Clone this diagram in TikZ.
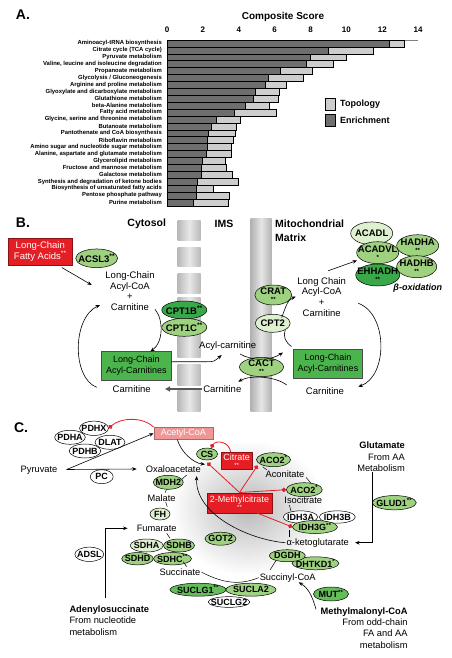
\documentclass[tikz,border=0pt]{standalone}
\usepackage{fontspec}
\setmainfont{Liberation Sans}
\usetikzlibrary{shapes.geometric,arrows.meta,calc}
\definecolor{rd}{RGB}{228,30,36}
\definecolor{pk}{RGB}{240,150,150}
\definecolor{dg}{RGB}{56,168,72}
\definecolor{mg}{RGB}{100,188,90}
\definecolor{lg}{RGB}{158,210,128}
\definecolor{vlg}{RGB}{222,240,208}
\definecolor{bxg}{RGB}{76,180,76}
\definecolor{darkbar}{RGB}{110,110,110}
\definecolor{lightbar}{RGB}{205,205,205}
\newcommand{\sst}[1]{\textsuperscript{#1}}
\newcommand{\lowst}[1]{\\[-1pt]{\fontsize{6}{6}\selectfont #1}}
\begin{document}
\begin{tikzpicture}[x=1pt,y=-1pt,
 enz/.style={ellipse,draw=black,line width=0.5pt,inner sep=0pt,inner xsep=-10pt,align=center,font=\bfseries\fontsize{9.5}{8}\selectfont},
 enzc/.style={enz,font=\bfseries\fontsize{9}{8}\selectfont},
 sz/.style 2 args={minimum width=#1,minimum height=#2},
 txtb/.style={font=\fontsize{9.5}{10.6}\selectfont,align=center,inner sep=1pt},
 txtc/.style={font=\fontsize{9.3}{11.4}\selectfont,align=center,inner sep=1pt},
 hdr/.style={font=\bfseries\fontsize{10.5}{14}\selectfont,inner sep=0pt},
 pnl/.style={font=\bfseries\fontsize{14}{14}\selectfont,inner sep=0pt},
 gbox/.style={rectangle,fill=bxg,draw=black!70,line width=0.5pt,align=center,inner sep=0pt,font=\fontsize{9}{11}\selectfont},
 rbox/.style={rectangle,fill=rd,draw=rd!60!black,line width=0.4pt,text=white,align=center,inner sep=0pt,font=\fontsize{9}{8}\selectfont},
 arr/.style={-{Stealth[length=4.5pt,width=3.6pt]},line width=0.6pt},
 inh/.style={rd,line width=0.8pt,-{Circle[length=4.4pt]}},
 tk/.style={line width=0.5pt},
 barlab/.style={font=\bfseries\fontsize{5.9}{6}\selectfont,inner sep=0pt,anchor=east},
]
\useasboundingbox (0,0) rectangle (452,658);

% ================= Panel A =================
\node[pnl] (la) at (23,15) {A.};
\node[font=\bfseries\fontsize{10}{10}\selectfont] (cst) at (283,17) {Composite Score};
\foreach \v in {0,2,...,14}
  \node[font=\bfseries\fontsize{8}{8}\selectfont,inner sep=0pt] (tk\v) at ({167+17.94*\v},30) {\v};
\draw[gray,line width=0.4pt] (167,39.8) -- (418,39.8);
\foreach \bname/\dv/\tv [count=\i] in {
 {Aminoacyl-tRNA biosynthesis}/12.37/13.23,
 {Citrate cycle (TCA cycle)}/8.96/11.5,
 {Pyruvate metabolism}/7.97/9.96,
 {Valine, leucine and isoleucine degradation}/7.73/9.28,
 {Propanoate metabolism}/6.3/8.1,
 {Glycolysis / Gluconeogenesis}/5.65/7.6,
 {Arginine and proline metabolism}/5.46/6.63,
 {Glyoxylate and dicarboxylate metabolism}/4.9/6.26,
 {Glutathione metabolism}/4.78/6.2,
 {beta-Alanine metabolism}/4.35/5.7,
 {Fatty acid metabolism}/3.73/6.06,
 {Glycine, serine and threonine metabolism}/2.73/4.07,
 {Butanoate metabolism}/2.44/3.85,
 {Pantothenate and CoA biosynthesis}/2.3/3.79,
 {Riboflavin metabolism}/2.21/3.7,
 {Amino sugar and nucleotide sugar metabolism}/2.21/3.57,
 {Alanine, aspartate and glutamate metabolism}/2.17/3.57,
 {Glycerolipid metabolism}/1.97/3.23,
 {Fructose and mannose metabolism}/1.93/3.32,
 {Galactose metabolism}/1.93/3.64,
 {Synthesis and degradation of ketone bodies}/1.66/3.97,
 {Biosynthesis of unsaturated fatty acids}/1.62/2.58,
 {Pentose phosphate pathway}/1.6/3.47,
 {Purine metabolism}/1.47/3.41}
{
 \pgfmathsetmacro{\yc}{43.3+6.91*(\i-1)}
 \filldraw[fill=lightbar,draw=black,line width=0.3pt] (167,\yc-3.45) rectangle ({167+17.94*\tv},\yc+3.45);
 \filldraw[fill=darkbar,draw=black,line width=0.3pt] (167,\yc-3.45) rectangle ({167+17.94*\dv},\yc+3.45);
 \node[barlab] (lab\i) at (162,\yc) {\bname};
}
\filldraw[fill=lightbar,draw=black,line width=0.4pt] (325,98.7) rectangle (335,110);
\filldraw[fill=darkbar,draw=black,line width=0.4pt] (325,114) rectangle (335,126);
\node[font=\bfseries\fontsize{9}{9}\selectfont,anchor=west,inner sep=0pt] (ltop) at (340,104.3) {Topology};
\node[font=\bfseries\fontsize{9}{9}\selectfont,anchor=west,inner sep=0pt] (lenr) at (340,120) {Enrichment};

% ================= Panel B =================
\node[pnl] (lb) at (23,223) {B.};
\node[hdr] (cyto) at (146.7,224) {Cytosol};
\node[hdr] (ims) at (224,224) {IMS};
\node[hdr,align=left,anchor=west] (mm) at (275,230.3) {Mitochondrial\\Matrix};

\foreach \a/\b in {220.7/240.7, 247.3/266.7, 273.3/293.3, 297.3/357, 364/385, 390/411.5}
  \shade[left color=gray!55,right color=gray!55,middle color=gray!18] (177.7,\a) rectangle (200.7,\b);
\shade[left color=gray!60,right color=gray!60,middle color=gray!20] (250.7,218.3) rectangle (271.7,411.5);

\node[rectangle,fill=rd,draw=rd!60!black,line width=0.4pt,text=white,align=center,inner sep=0pt,sz={64pt}{26.7pt},font=\fontsize{9.5}{11}\selectfont] (lcfa) at (40.3,251.7) {Long-Chain\\Fatty Acids\sst{**}};
\node[enz,fill=lg,sz={42pt}{18.7pt}] (acsl3) at (96.7,258.3) {ACSL3\sst{**}};
\node[txtb] (acoa1) at (130,291) {Long-Chain\\Acyl-CoA\\+\\Carnitine};
\node[enz,fill=dg,sz={45pt}{18pt}] (cpt1b) at (184.3,310) {CPT1B\sst{**}};
\node[enz,fill=lg,sz={45pt}{18pt}] (cpt1c) at (184.3,327.3) {CPT1C\sst{**}};
\node[gbox,sz={69.3pt}{28.3pt}] (lcac1) at (136.3,365.8) {Long-Chain\\Acyl-Carnitines};
\node[txtb] (acylc) at (227.7,346) {Acyl-carnitine};
\node[enz,fill=lg,sz={44pt}{18pt}] (cact) at (261.5,367) {CACT\lowst{**}};
\node[txtb] (carnI) at (222.3,389) {Carnitine};
\node[txtb] (carnC) at (131.7,389) {Carnitine};
\node[gbox,sz={69.3pt}{29.3pt}] (lcac2) at (328,363.7) {Long-Chain\\Acyl-Carnitines};
\node[txtb] (carnM) at (325,391) {Carnitine};
\node[enz,fill=lg,sz={37pt}{20pt}] (crat) at (273.3,295) {CRAT\lowst{**}};
\node[enz,fill=vlg,sz={35pt}{18pt}] (cpt2) at (272.7,323.3) {CPT2};
\node[txtb] (acoa2) at (321.7,296.8) {Long Chain\\Acyl-CoA\\+\\Carnitine};
\node[enz,fill=vlg,sz={42pt}{22.7pt}] (acadl) at (371.7,233.3) {ACADL};
\node[enz,fill=lg,sz={42pt}{22pt}] (hadha) at (417.7,245.7) {HADHA\lowst{**}};
\node[enz,fill=lg,sz={42pt}{22pt}] (acadvl) at (377.7,252.7) {ACADVL\lowst{*}};
\node[enz,fill=lg,sz={40pt}{22pt}] (hadhb) at (416.7,266.7) {HADHB\lowst{**}};
\node[enz,fill=dg,sz={44pt}{22pt}] (ehhadh) at (377.7,275) {EHHADH\lowst{**}};
\node[font=\bfseries\itshape\fontsize{9}{9}\selectfont,inner sep=0pt] (betaox) at (417.7,287.7) {β-oxidation};

\coordinate (acoaIn) at (91.7,285);
\draw[arr] ([shift={(-10.6,2.3)}]lcfa.south east) -- (acoaIn);
\coordinate (cycS) at (96.7,387.3);
\coordinate (cycE) at (100,305);
\draw[arr] (cycS) .. controls (72,378) and (72,318) .. (cycE);
\coordinate (carOut) at (155,309.3);
\draw[arr] (carOut) .. controls (164,320) and (163,343) .. ([xshift=14pt]lcac1.north);
\coordinate (acIn) at (221.7,355);
\draw[arr] ([yshift=4pt]lcac1.east) -- (206,361.7) .. controls (214,361.7) .. (acIn);
\coordinate (ctA) at (240,354);
\coordinate (ctB) at (283,352.5);
\draw[arr] (ctA) .. controls (252,361) and (270,361) .. (ctB);
\coordinate (cbA) at (286.7,385);
\coordinate (cbB) at (238.3,381.7);
\draw[arr] (cbA) .. controls (275,376) and (250,375) .. (cbB);
\coordinate (carnCin) at (165,389);
\draw[line width=1.5pt,gray!70!black,-{Triangle[length=5pt,width=5pt]}] (carnI.west) -- (carnCin);
\coordinate (cp2out) at (281.7,317.5);
\coordinate (acoa2in) at (295.7,296.7);
\draw[arr] (cp2out) .. controls (285.5,308) and (287,300) .. (acoa2in);
\draw[line width=0.6pt] ([shift={(-1.6,-2.3)}]lcac2.north west) .. controls (285,342) and (283,336) .. (cpt2.south east);
\coordinate (rS) at (358.3,303.3);
\coordinate (rE) at (358.3,386.7);
\draw[arr] (rS) .. controls (388,314) and (388,376) .. (rE);
\coordinate (boS) at (328.3,270.7);
\coordinate (boE) at (357,260.5);
\draw[arr] (boS) -- (boE);

% ================= Panel C =================
\node[pnl] (lc) at (21,428) {C.};
\shade[inner color=gray!55,outer color=white] (248,508) ellipse (78 and 68);

\node[enzc,fill=white,sz={29pt}{14.3pt}] (pdhx) at (94,428.3) {PDHX};
\node[enzc,fill=white,sz={30.7pt}{14pt}] (pdha) at (70,437.3) {PDHA};
\node[enzc,fill=white,sz={31.7pt}{14pt}] (pdhb) at (85,451) {PDHB};
\node[enzc,fill=white,sz={30pt}{14pt}] (dlat) at (110,442.3) {DLAT};
\node[txtc] (pyr) at (39,470) {Pyruvate};
\node[enzc,fill=white,sz={23pt}{14pt}] (pc) at (101.7,476.7) {PC};
\node[rectangle,fill=pk,draw=pk!70!black,line width=0.4pt,text=white,inner sep=0pt,sz={59pt}{12pt},font=\fontsize{9}{9}\selectfont] (accoa) at (183.3,433.3) {Acetyl-CoA};
\node[txtc] (oaa) at (173.3,469) {Oxaloacetate};
\node[enzc,fill=lg,sz={30pt}{14pt}] (mdh2) at (168.3,482.3) {MDH2};
\node[txtc] (mal) at (161.7,498.3) {Malate};
\node[enzc,fill=vlg,sz={20pt}{12pt}] (fh) at (160,514) {FH};
\node[txtc] (fum) at (156.7,528.3) {Fumarate};
\node[enzc,fill=lg,sz={21pt}{12pt}] (cs) at (207,454) {CS};
\node[rbox,sz={31.3pt}{17pt}] (cit) at (236.7,460.8) {Citrate\lowst{**}};
\node[enzc,fill=lg,sz={34pt}{14pt}] (aco2a) at (273.5,459.7) {ACO2\sst{*}};
\node[txtc] (acon) at (285,474) {Aconitate};
\node[enzc,fill=lg,sz={36pt}{14pt}] (aco2b) at (304.3,489.7) {ACO2\sst{*}};
\node[txtc] (isoc) at (303.3,500.5) {Isocitrate};
\node[rbox,sz={65.6pt}{20pt}] (mc) at (239.5,502.7) {2-Methylcitrate\lowst{**}};
\node[enzc,fill=white,sz={34.4pt}{12.3pt}] (idh3a) at (300.5,517) {IDH3A};
\node[enzc,fill=white,sz={36pt}{12.3pt}] (idh3b) at (337.3,517) {IDH3B};
\node[enzc,fill=lg,sz={45pt}{13pt}] (idh3g) at (315,527) {IDH3G\sst{**}};
\node[txtc] (akg) at (317.7,542.7) {α-ketoglutarate};
\node[txtc,align=right,anchor=east] (glu) at (406,456.7) {\textbf{Glutamate}\\From AA\\Metabolism};
\node[enzc,fill=lg,sz={44pt}{14.3pt}] (glud1) at (394.3,502.7) {GLUD1\sst{**}};
\node[enzc,fill=lg,sz={31pt}{13pt}] (got2) at (220.5,538.7) {GOT2};
\node[enzc,fill=lg,sz={47pt}{13pt}] (dhtkd1) at (315.5,563.3) {DHTKD1\sst{*}};
\node[enzc,fill=lg,sz={36pt}{12pt}] (dgdh) at (287.3,555.7) {DGDH};
\node[txtc] (succoa) at (287.7,577.7) {Succinyl-CoA};
\node[enzc,fill=mg,sz={35pt}{14pt}] (mut) at (331,594) {MUT\sst{**}};
\node[txtc,align=right,anchor=east] (mmc) at (408.7,627.9) {\textbf{Methylmalonyl-CoA}\\From odd-chain\\FA and AA\\metabolism};
\node[enzc,fill=mg,sz={56pt}{13pt}] (suclg1) at (198,589.7) {SUCLG1\sst{**}};
\node[enzc,fill=lg,sz={50pt}{13pt}] (sucla2) at (251,589.7) {SUCLA2};
\node[enzc,fill=white,sz={41.7pt}{10.7pt}] (suclg2) at (229,602) {SUCLG2};
\node[txtc] (succ) at (180,572.3) {Succinate};
\node[enzc,fill=lg,sz={31pt}{13pt}] (sdhb) at (179,545.5) {SDHB};
\node[enzc,fill=vlg,sz={33pt}{13pt}] (sdha) at (146.7,545.5) {SDHA};
\node[enzc,fill=lg,sz={38pt}{12.3pt}] (sdhc) at (172.5,558.7) {SDHC\sst{**}};
\node[enzc,fill=lg,sz={31.6pt}{12.3pt}] (sdhd) at (137.5,558.7) {SDHD};
\node[enzc,fill=white,sz={29pt}{14.3pt}] (adsl) at (89.3,554.3) {ADSL};
\node[txtc,align=left,anchor=west] (adeno) at (68.3,620.3) {\textbf{Adenylosuccinate}\\From nucleotide\\metabolism};

% connectors C
\coordinate (pyrO) at (66.7,469.5);
\draw[arr] (pyrO) -- (accoa.west);
\draw[arr] (pyrO) -- ([xshift=-8pt]oaa.west);
\draw[inh] (accoa.north west) .. controls (142,416) and (120,418) .. (pdhx.east);
\coordinate (csIn) at (205,464.3);
\draw[arr] ([xshift=-6pt]accoa.south) .. controls (181,452) and (193,463) .. (csIn);
\draw[inh] ([xshift=-6pt]cit.north) .. controls (229,441) and (216,440) .. ([xshift=4pt]cs.north);
\coordinate (csDot) at (207.3,462.7);
\coordinate (acoDot) at (257.5,465.5);
\draw[inh] (mc.north) -- (csDot);
\draw[inh] (mc.north) -- (acoDot);
\draw[inh] (mc.north) -- (aco2b.west);
\draw[inh] ([xshift=-15.6pt]mc.south east) -- (idh3g.west);
% small pathway ticks
\draw[tk] (181.7,479.3) -- (186.7,475);
\draw[tk] (166.5,489.3) -- (165.3,492.5);
\draw[tk] (167.3,506.7) -- (165.7,502);
\draw[tk] (166.7,533.3) -- (170,538.3);
\draw[tk] (183.3,561.7) -- (186.7,566.7);
\draw[tk] (262.7,466.7) -- (267,470);
\draw[tk] (306,477.3) -- (311,483.3);
\draw[tk] (289.3,505) -- (291,511);
\draw[tk] (289.3,530) -- (289.3,536.7);
\draw[tk] (276,560.5) -- (270,570);
\draw[tk] (succ.east) .. controls (225,584) and (240,585) .. (succoa.west);
% big arc akg -> oaa
\coordinate (oaaIn) at (196.7,476);
\draw[arr] (akg.west) .. controls (250,540) and (195,515) .. (oaaIn);
% glutamate
\coordinate (gluS) at (372.7,471.7);
\draw[arr] (gluS) |- ([xshift=5pt]akg.east);
% adenylosuccinate
\coordinate (adS) at (105,598);
\draw[arr] (adS) |- ([xshift=-8pt]fum.west);
% methylmalonyl
\coordinate (mmS) at (316,609.3);
\coordinate (mmE) at (298.7,582.3);
\draw[arr] (mmS) .. controls (312,595) and (308,588) .. (mmE);
\end{tikzpicture}
\end{document}
